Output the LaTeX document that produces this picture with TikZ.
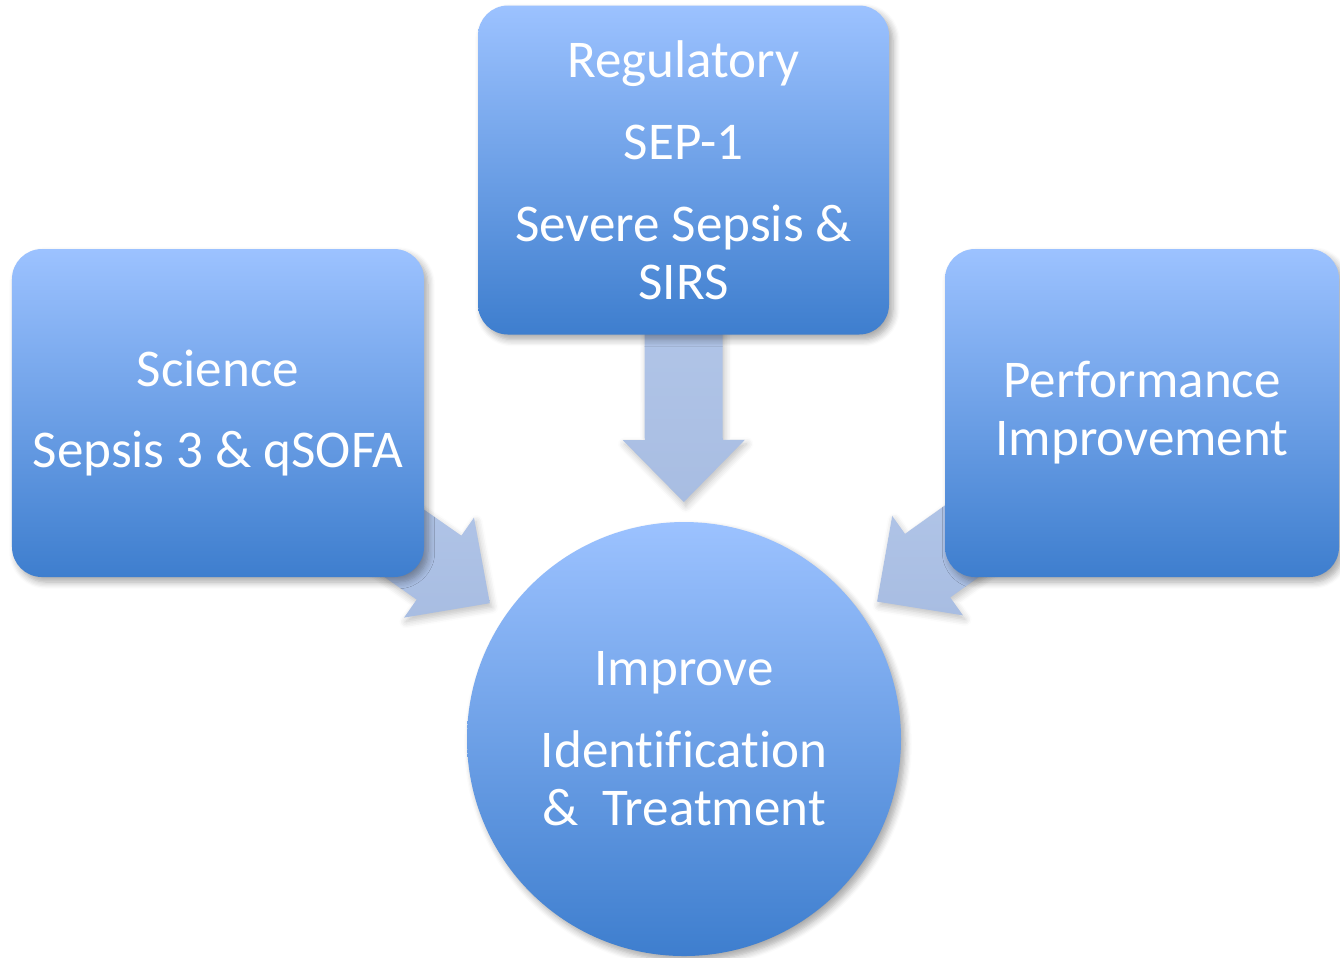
\documentclass[tikz,border=0pt]{standalone}
\usepackage{fontspec}
\setmainfont{Carlito}[Ligatures=CommonOff]
\usepackage{xcolor}
\usepackage{tikz}
\usetikzlibrary{calc,backgrounds,shadows.blur}

\definecolor{boxtop}{RGB}{156,194,255}
\definecolor{boxbottom}{RGB}{62,126,206}
\definecolor{arrowtop}{RGB}{184,203,236}
\definecolor{arrowbottom}{RGB}{168,189,226}

\tikzset{
  topic/.style={rectangle, rounded corners=0.3cm, top color=boxtop, bottom color=boxbottom,
    text=white, align=center, font=\fontsize{15.1}{16.5}\selectfont,
    blur shadow={shadow xshift=0.04cm, shadow yshift=-0.05cm, shadow opacity=35, shadow blur steps=6}},
  goal/.style={circle, top color=boxtop, bottom color=boxbottom, inner sep=0pt,
    text=white, align=center, font=\fontsize{15.1}{16.5}\selectfont,
    blur shadow={shadow xshift=0.04cm, shadow yshift=-0.05cm, shadow opacity=35, shadow blur steps=6}},
  fatarrow/.style={top color=arrowtop, bottom color=arrowbottom,
    blur shadow={shadow xshift=0.02cm, shadow yshift=-0.04cm, shadow opacity=25, shadow blur steps=5},
    to path={let \p1=($(\tikztotarget)!0.62cm!(\tikztostart)$) in
      ($(\tikztostart)!0.39cm!90:(\tikztotarget)$)
      -- ($(\p1)!0.39cm!90:(\tikztotarget)$)
      -- ($(\p1)!0.61cm!90:(\tikztotarget)$)
      -- (\tikztotarget)
      -- ($(\p1)!0.61cm!-90:(\tikztotarget)$)
      -- ($(\p1)!0.39cm!-90:(\tikztotarget)$)
      -- ($(\tikztostart)!0.39cm!-90:(\tikztotarget)$) -- cycle}}
}

\begin{document}
\begin{tikzpicture}
  \useasboundingbox (0,0) rectangle (13.40,-9.57);

  \node[topic, minimum width=4.11cm, minimum height=3.29cm] (regulatory) at (6.835,-1.70)
    {Regulatory\\[0.24cm]SEP-1\\[0.24cm]Severe Sepsis \&\\SIRS};
  \node[topic, minimum width=4.12cm, minimum height=3.28cm] (science) at (2.18,-4.13)
    {Science\\[0.24cm]Sepsis 3 \& qSOFA};
  \node[topic, minimum width=3.94cm, minimum height=3.28cm] (performance) at (11.42,-4.13)
    {Performance\\Improvement};
  \node[goal, minimum size=4.34cm] (improve) at (6.84,-7.39)
    {Improve\\[0.24cm]Identification\\\&\ \ Treatment};

  % arrow tips sit just off the circle, on the line to each box
  \coordinate (tipR) at ($(improve.center)!2.37cm!(regulatory.center)$);
  \coordinate (tipS) at ($(improve.center)!2.37cm!(science.center)$);
  \coordinate (tipP) at ($(improve.center)!2.37cm!(performance.center)$);

  \begin{scope}[on background layer]
    \path[fatarrow] (regulatory.center) to (tipR);
    \path[fatarrow] (science.center) to (tipS);
    \path[fatarrow] (performance.center) to (tipP);
  \end{scope}
\end{tikzpicture}
\end{document}
